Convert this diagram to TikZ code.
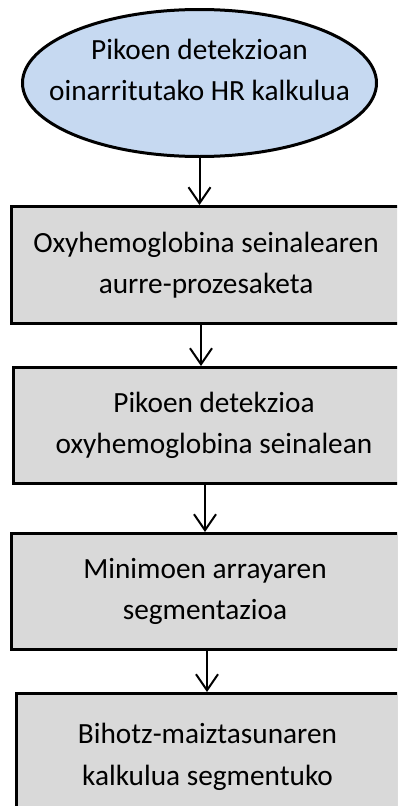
\documentclass[tikz,border=0pt]{standalone}
\usepackage{fontspec}
\setmainfont{Carlito}
\usetikzlibrary{shapes.geometric,arrows.meta}
\definecolor{ellfill}{HTML}{C6D9F1}
\definecolor{boxfill}{HTML}{D9D9D9}
\tikzset{
  flowtext/.style={font=\fontsize{29.3}{41.5}\selectfont, align=center, inner sep=0pt, text=black},
  startell/.style={flowtext, ellipse, draw=black, line width=3pt, fill=ellfill, inner xsep=-70pt, inner ysep=-45pt},
  procbox/.style={flowtext, rectangle, draw=black, line width=3pt, fill=boxfill},
  flowarrow/.style={draw=black, line width=2pt, -{Straight Barb[length=16pt,width=22pt]}}
}
\begin{document}
\begin{tikzpicture}[x=1pt,y=-1pt]
\useasboundingbox (0,0) rectangle (397,806);
\clip (0,0) rectangle (397,806);
\fill[white] (0,0) rectangle (397,806);
\node[startell, minimum width=354pt, minimum height=147pt] (ell) at (199.5,83)
  {Pikoen detekzioan\\oinarritutako HR kalkulua\rule[-26pt]{0pt}{0pt}};
\node[procbox, minimum width=389pt, minimum height=117pt] (b1) at (206,265)
  {Oxyhemoglobina seinalearen\\aurre-prozesaketa\rule[-3pt]{0pt}{0pt}};
\node[procbox, minimum width=401pt, minimum height=116pt] (b2) at (214,425.5)
  {Pikoen detekzioa\\oxyhemoglobina seinalean};
\node[procbox, minimum width=387pt, minimum height=116pt] (b3) at (205,591.5)
  {Minimoen arrayaren\\segmentazioa};
\node[procbox, minimum width=382pt, minimum height=127pt] (b4) at (207.5,757)
  {Bihotz-maiztasunaren\\kalkulua segmentuko};
\draw[flowarrow] (ell.south) -- (ell.south |- b1.north);
\draw[flowarrow] ([xshift=-5pt]b1.south) -- ([xshift=-5pt]b1.south |- b2.north);
\draw[flowarrow] ([xshift=-9pt]b2.south) -- ([xshift=-9pt]b2.south |- b3.north);
\draw[flowarrow] ([xshift=2pt]b3.south) -- ([xshift=2pt]b3.south |- b4.north);
\end{tikzpicture}
\end{document}
